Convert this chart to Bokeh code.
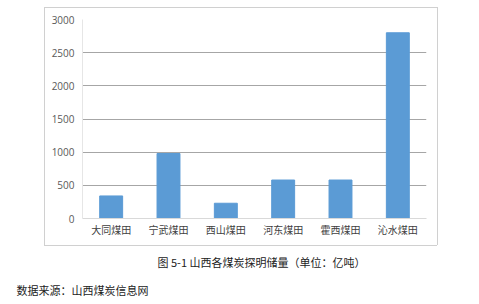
from bokeh.plotting import figure
from bokeh.models import Title, SingleIntervalTicker
from bokeh.embed import file_html
from bokeh.resources import INLINE

categories = ["大同煤田", "宁武煤田", "西山煤田", "河东煤田", "霍西煤田", "沁水煤田"]
reserves = [340, 980, 230, 580, 580, 2800]
caption = "图 5-1  山西各煤炭探明储量（单位：亿吨）"
source_note = "数据来源：山西煤炭信息网"

W, H = 479, 304
FR_L, FR_T, FR_R, FR_B = 82, 19, 426, 218
BOX_L, BOX_T, BOX_R, BOX_B = 44, 7, 437, 245

p = figure(width=W, height=H, x_range=categories, y_range=(0, 3000),
           output_backend="svg", toolbar_location=None,
           min_border_left=FR_L, min_border_right=W - FR_R,
           min_border_top=FR_T, min_border_bottom=H - FR_B)
p.background_fill_color = "white"
p.border_fill_color = None
p.outline_line_color = None

# light grey chart-area box drawn as the page background behind the transparent border
bw, bh = BOX_R - BOX_L, BOX_B - BOX_T
g = "linear-gradient(#d0d0d0, #d0d0d0)"
p.styles = {
    "background-color": "white",
    "background-image": ", ".join([g] * 4),
    "background-size": f"{bw}px 1px, {bw}px 1px, 1px {bh}px, 1px {bh}px",
    "background-position": f"{BOX_L}px {BOX_T}px, {BOX_L}px {BOX_B}px, {BOX_L}px {BOX_T}px, {BOX_R}px {BOX_T}px",
    "background-repeat": "no-repeat",
}

p.vbar(x=categories, top=reserves, width=0.4, color="#5B9BD5")

p.yaxis.ticker = SingleIntervalTicker(interval=500)
p.yaxis.major_tick_line_color = None
p.yaxis.minor_tick_line_color = None
p.yaxis.major_tick_out = 0
p.yaxis.major_tick_in = 0
p.yaxis.minor_tick_out = 0
p.yaxis.axis_line_color = "#e6e6e6"
p.yaxis.major_label_text_font = "Open Sans"
p.yaxis.major_label_text_font_size = "10px"
p.yaxis.major_label_text_color = "#595959"
p.yaxis.major_label_standoff = 8

p.xaxis.major_tick_line_color = None
p.xaxis.minor_tick_line_color = None
p.xaxis.major_tick_out = 0
p.xaxis.major_tick_in = 0
p.xaxis.axis_line_color = "#d9d9d9"
p.xaxis.major_label_text_font = "Noto Sans CJK SC"
p.xaxis.major_label_text_font_size = "10px"
p.xaxis.major_label_text_color = "#404040"
p.xaxis.major_label_standoff = 3

p.xgrid.grid_line_color = None
p.ygrid.grid_line_color = "#a6a6a6"
p.ygrid.grid_line_width = 1

p.add_layout(Title(text=caption, align="left", offset=157 - FR_L, standoff=24,
                   text_font="Noto Sans CJK SC", text_font_size="11px",
                   text_font_style="normal", text_color="#222222"), "below")
p.add_layout(Title(text=source_note, align="left", offset=16 - FR_L, standoff=-3,
                   text_font="Noto Sans CJK SC", text_font_size="11px",
                   text_font_style="normal", text_color="#222222"), "below")

open("out.html", "w").write(file_html(p, INLINE))
